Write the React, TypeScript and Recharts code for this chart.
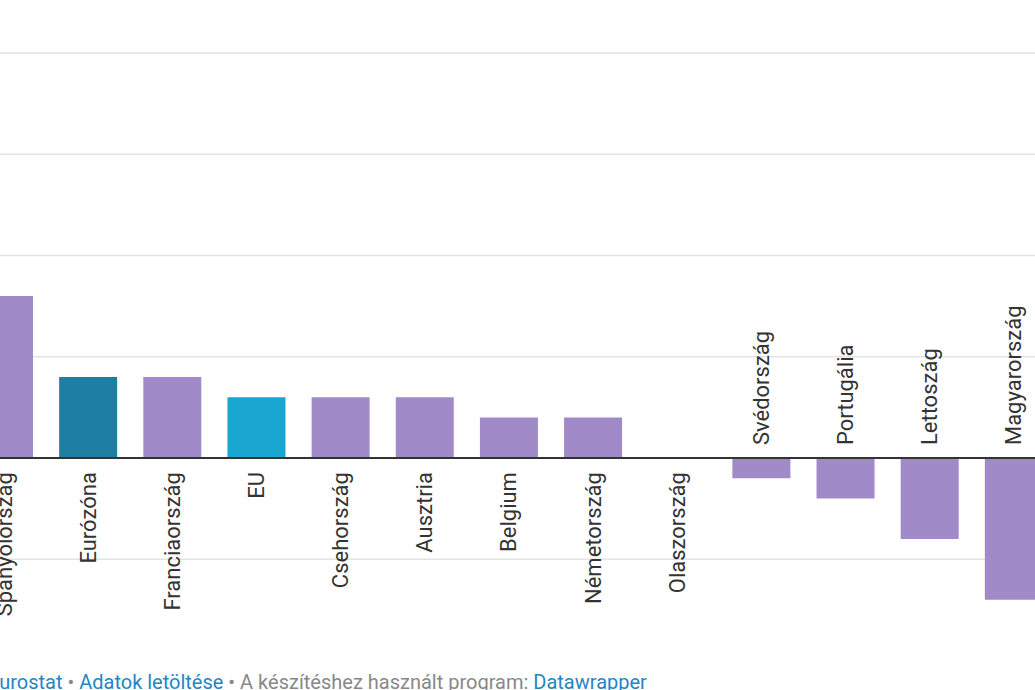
import React from "react";
import { BarChart, Bar, XAxis, YAxis, Cell, ReferenceLine, ReferenceDot, CartesianGrid } from "recharts";

const categories = [
  "Spanyolország", "Eurózóna", "Franciaország", "EU", "Csehország", "Ausztria",
  "Belgium", "Németország", "Olaszország", "Svédország", "Portugália", "Lettoszág", "Magyarország",
];
const values = [0.8, 0.4, 0.4, 0.3, 0.3, 0.3, 0.2, 0.2, 0, -0.1, -0.2, -0.4, -0.7];
const gridTicks = [-0.5, 0.5, 1, 1.5, 2];

const PURPLE = "#a08ac8";
const EUROZONE = "#1f7fa3";
const EU = "#19a6d0";
const colorFor = (name: string) => (name === "Eurózóna" ? EUROZONE : name === "EU" ? EU : PURPLE);

const data = categories.map((name, i) => ({ name, value: values[i] }));

const FONT = "Roboto, 'Noto Sans', sans-serif";

const makeLabel = (name: string, value: number) => (props: any) => {
  const { cx, cy } = props;
  const positive = value >= 0;
  const ty = positive ? cy + 14 : cy - 13;
  return (
    <text
      x={cx}
      y={ty}
      transform={`rotate(-90 ${cx} ${ty})`}
      textAnchor={positive ? "end" : "start"}
      dominantBaseline="central"
      fontFamily={FONT}
      fontSize={22}
      fill="#333"
    >
      {name}
    </text>
  );
};

export default function App() {
  return (
    <div style={{ position: "absolute", left: 0, top: 0, width: 1035, height: 690, overflow: "hidden", background: "#fff" }}>
      <div style={{ position: "absolute", left: -38, top: 0 }}>
        <BarChart width={1094} height={691} data={data} margin={{ top: 53, right: 0, bottom: 0, left: 0 }} barSize={58}>
          <XAxis dataKey="name" hide />
          <YAxis hide domain={[-1.15, 2]} ticks={gridTicks} />
          <CartesianGrid vertical={false} stroke="#e3e3e3" strokeWidth={1.5} />
          <Bar dataKey="value" isAnimationActive={false}>
            {data.map((d) => (
              <Cell key={d.name} fill={colorFor(d.name)} />
            ))}
          </Bar>
          <ReferenceLine y={0} stroke="#333" strokeWidth={2} />
          {data.map((d) => (
            <ReferenceDot key={d.name} x={d.name} y={0} r={0} shape={makeLabel(d.name, d.value)} />
          ))}
        </BarChart>
      </div>
      <svg width={1035} height={690} style={{ position: "absolute", left: 0, top: 0, pointerEvents: "none" }}>
        <rect x={0} y={655} width={1035} height={35} fill="#fff" />
        <text x={-12} y={689} fontFamily={FONT} fontSize={20} fill="#888">
          <tspan fill="#2386c4">Eurostat</tspan>
          <tspan> • </tspan>
          <tspan fill="#2386c4">Adatok letöltése</tspan>
          <tspan> • A készítéshez használt program: </tspan>
          <tspan fill="#2386c4">Datawrapper</tspan>
        </text>
      </svg>
    </div>
  );
}
